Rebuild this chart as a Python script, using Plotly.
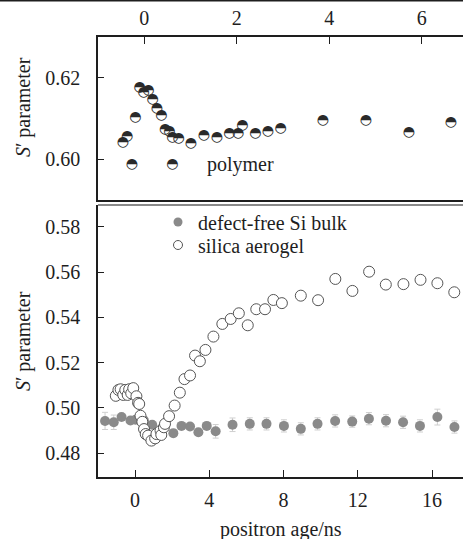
import plotly.graph_objects as go

# ---------------- data ----------------
# top panel: polymer (positron age in ns, S' parameter)
poly_x = [-0.46, -0.37, -0.27, -0.19, -0.10, -0.015, 0.09, 0.18, 0.27, 0.37, 0.45, 0.54,
          0.61, 0.61, 0.74, 1.01, 1.29, 1.57, 1.84, 2.03, 2.12, 2.40, 2.67, 2.95, 3.86,
          4.79, 5.72, 6.63]
poly_y = [0.6042, 0.6057, 0.5988, 0.6103, 0.6176, 0.6164, 0.6169, 0.6146, 0.6124, 0.6108,
          0.6073, 0.6068, 0.6054, 0.5988, 0.6052, 0.6039, 0.6058, 0.6053, 0.6063, 0.6063,
          0.6083, 0.6064, 0.6068, 0.6075, 0.6096, 0.6096, 0.6065, 0.6089]

# bottom panel: defect-free Si bulk
si_x = [-1.62, -1.15, -0.73, -0.25, 0.02, 0.47, 0.92, 2.06, 2.50, 2.96, 3.41, 3.86, 4.34,
        5.25, 6.18, 7.08, 8.02, 8.93, 9.83, 10.78, 11.70, 12.60, 13.52, 14.44, 15.35,
        16.29, 17.21]
si_y = [0.4942, 0.4936, 0.4959, 0.4944, 0.4947, 0.4945, 0.4925, 0.4888, 0.4920, 0.4917,
        0.4892, 0.4920, 0.4896, 0.4925, 0.4929, 0.4929, 0.4920, 0.4907, 0.4929, 0.4942,
        0.4939, 0.4952, 0.4943, 0.4936, 0.4920, 0.4959, 0.4915]
si_err = [0.0038, 0.0032, 0.0010, 0.0010, 0.0010, 0.0010, 0.0010, 0.0010, 0.0010, 0.0010,
          0.0010, 0.0010, 0.0030, 0.0030, 0.0027, 0.0027, 0.0027, 0.0027, 0.0027, 0.0027,
          0.0025, 0.0027, 0.0027, 0.0027, 0.0027, 0.0035, 0.0027]

# bottom panel: silica aerogel
aero_x = [-1.04, -0.90, -0.78, -0.64, -0.53, -0.40, -0.32, -0.21, -0.10, 0.07, 0.16, 0.22,
          0.29, 0.39, 0.48, 0.57, 0.70, 0.88, 1.08, 1.15, 1.37, 1.41, 1.55, 1.61, 1.83,
          2.13, 2.41, 2.66, 2.96, 3.23, 3.49, 3.79, 4.22, 4.70, 5.15, 5.59, 6.07, 6.53,
          7.00, 7.45, 7.91, 8.93, 9.86, 10.79, 11.71, 12.61, 13.51, 14.46, 15.38, 16.29,
          17.20]
aero_y = [0.5053, 0.5079, 0.5082, 0.5057, 0.5079, 0.5057, 0.5082, 0.5064, 0.5087, 0.5051,
          0.5022, 0.5017, 0.4965, 0.4938, 0.4906, 0.4884, 0.4877, 0.4855, 0.4865, 0.4884,
          0.4899, 0.4880, 0.4914, 0.4929, 0.4963, 0.5010, 0.5067, 0.5127, 0.5143, 0.5231,
          0.5206, 0.5256, 0.5315, 0.5371, 0.5393, 0.5418, 0.5365, 0.5436, 0.5436, 0.5477,
          0.5463, 0.5496, 0.5476, 0.5570, 0.5517, 0.5602, 0.5545, 0.5547, 0.5566, 0.5551,
          0.5511]

top_xticks = [0, 2, 4, 6]
top_yticks = [0.60, 0.62]
bot_xticks = [0, 4, 8, 12, 16]
bot_yticks = [0.48, 0.50, 0.52, 0.54, 0.56, 0.58]

# ---------------- figure ----------------
W, H = 463, 539
L = 98
FONT = "Liberation Serif"
INK = "#1e1e1e"

def py2paper(p):
    return 1 - p / H

fig = go.Figure()

# polymer: half-filled circles (upper half dark) drawn as a glyph
fig.add_trace(go.Scatter(
    x=poly_x, y=poly_y, mode="text", text=["\u25D3"] * len(poly_x),
    textfont=dict(family="DejaVu Sans", size=14, color="#2a2a2a"),
    textposition="middle center", xaxis="x", yaxis="y", showlegend=False,
    hoverinfo="skip"))

fig.add_trace(go.Scatter(
    x=si_x, y=si_y, mode="markers", xaxis="x2", yaxis="y2", showlegend=False,
    marker=dict(size=10, color="#8a8a8a", line=dict(width=0)),
    error_y=dict(type="data", array=si_err, color="#cfcfcf", thickness=1, width=3)))

fig.add_trace(go.Scatter(
    x=aero_x, y=aero_y, mode="markers", xaxis="x2", yaxis="y2", showlegend=False,
    marker=dict(size=11, color="white", line=dict(width=1, color="#555555"))))

# legend entries
fig.add_trace(go.Scatter(
    x=[None], y=[None], mode="markers", name="defect-free Si bulk", legend="legend",
    xaxis="x2", yaxis="y2", marker=dict(size=9, color="#8a8a8a")))
fig.add_trace(go.Scatter(
    x=[None], y=[None], mode="markers", name="silica aerogel", legend="legend2",
    xaxis="x2", yaxis="y2",
    marker=dict(size=9, color="white", line=dict(width=1, color="#555555"))))

axis_font = dict(family=FONT, size=20, color=INK)

def leg(ycenter):
    return dict(x=(158 - L) / (W - L), y=py2paper(ycenter), xanchor="left",
                yanchor="middle", font=dict(family=FONT, size=20, color=INK),
                bgcolor="rgba(0,0,0,0)", itemwidth=30)

fig.update_layout(
    width=W, height=H,
    margin=dict(l=L, r=0, t=0, b=0),
    paper_bgcolor="white", plot_bgcolor="white",
    font=axis_font,
    showlegend=True,
    legend=leg(222),
    legend2=leg(245),
    xaxis=dict(domain=[0, 1], anchor="y", side="top", range=[-1, 6.89],
               tickvals=top_xticks, ticks="inside", ticklen=7, tickcolor=INK,
               showline=True, mirror=True, linecolor=INK, linewidth=1.5,
               showgrid=False, zeroline=False, tickfont=axis_font,
               ticklabelstandoff=2),
    yaxis=dict(domain=[py2paper(200), py2paper(37)], anchor="x", range=[0.590, 0.630],
               tickvals=top_yticks, tickformat=".2f", ticks="inside", ticklen=6,
               tickcolor=INK, showline=True, mirror=False, linecolor=INK, linewidth=1.5,
               showgrid=False, zeroline=False, tickfont=axis_font,
               ticklabelstandoff=12),
    xaxis2=dict(domain=[0, 1], anchor="y2", range=[-2, 17.67],
                tickvals=bot_xticks, ticks="inside", ticklen=7, tickcolor=INK,
                showline=True, mirror=False, linecolor=INK, linewidth=1.5,
                showgrid=False, zeroline=False, tickfont=axis_font,
                ticklabelstandoff=4),
    yaxis2=dict(domain=[py2paper(477), py2paper(205)], anchor="x2",
                range=[0.4694, 0.5897], tickvals=bot_yticks, tickformat=".2f",
                ticks="inside", ticklen=6, tickcolor=INK, showline=True, mirror=False,
                linecolor=INK, linewidth=1.5, showgrid=False, zeroline=False,
                tickfont=axis_font, ticklabelstandoff=12),
    shapes=[
        dict(type="line", xref="paper", yref="paper", x0=-L / (W - L), x1=1.02,
             y0=1, y1=1, line=dict(color=INK, width=3)),
        dict(type="line", xref="paper", yref="paper", x0=0, x1=1.02,
             y0=py2paper(205), y1=py2paper(205), line=dict(color="#8a8a8a", width=2)),
    ],
    annotations=[
        dict(text="polymer", x=1.32, y=0.5988, xref="x", yref="y", xanchor="left",
             yanchor="middle", showarrow=False, font=axis_font),
        dict(text="positron age/ns", x=0.5, y=py2paper(529), xref="paper", yref="paper",
             xanchor="center", yanchor="middle", showarrow=False, font=axis_font),
        dict(text="<i>S</i>\u2032 parameter", x=-(L - 23) / (W - L), y=py2paper(107),
             xref="paper", yref="paper", xanchor="center", yanchor="middle",
             textangle=-90, showarrow=False, font=axis_font),
        dict(text="<i>S</i>\u2032 parameter", x=-(L - 23) / (W - L), y=py2paper(341),
             xref="paper", yref="paper", xanchor="center", yanchor="middle",
             textangle=-90, showarrow=False, font=axis_font),
    ],
)

fig.write_html("out.html", config={"displayModeBar": False},
               post_script="document.body.style.margin='0';document.body.style.padding='0';")
